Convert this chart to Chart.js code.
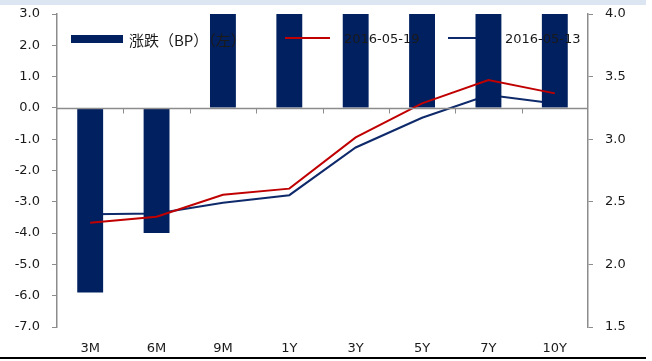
<!DOCTYPE html>
<html>
<head>
<meta charset="utf-8">
<script src="https://cdn.jsdelivr.net/npm/chart.js@4.4.1/dist/chart.umd.min.js"></script>
<style>
  html, body { margin: 0; padding: 0; background: #fff; }
  #wrap { position: relative; width: 652px; height: 361px; }
</style>
</head>
<body>
<div id="wrap"><canvas id="c" width="652" height="361"></canvas></div>
<script>
// 期限
const tenors = ['3M', '6M', '9M', '1Y', '3Y', '5Y', '7Y', '10Y'];
// 涨跌（BP），左轴
const changeBp = [-5.9, -4.0, 6.4, 5.2, 8.0, 11.5, 11.9, 8.0];
// 收益率（%），右轴
const yield0519 = [2.332, 2.380, 2.556, 2.605, 3.014, 3.286, 3.472, 3.366];
const yield0513 = [2.401, 2.407, 2.492, 2.553, 2.934, 3.171, 3.353, 3.286];

const NAVY = '#002060';
const RED = '#C00000';
const LINE_BLUE = '#0F2A6B';
const AXIS = '#8c8c8c';
const TXT = '#1a1a1a';
const FONT = 'DejaVu Sans';

// 零线和分类间隔刻度
const zeroAxis = {
  id: 'zeroAxis',
  afterDatasetsDraw(chart) {
    const ctx = chart.ctx;
    const xs = chart.scales.x;
    const y0 = Math.round(chart.scales.y.getPixelForValue(0)) + 0.5;
    const half = (xs.getPixelForTick(1) - xs.getPixelForTick(0)) / 2;
    ctx.save();
    ctx.strokeStyle = AXIS;
    ctx.lineWidth = 1.5;
    ctx.beginPath();
    ctx.moveTo(chart.chartArea.left, y0);
    ctx.lineTo(chart.chartArea.right, y0);
    ctx.stroke();
    ctx.lineWidth = 1;
    ctx.beginPath();
    for (let i = 1; i < tenors.length; i++) {
      const x = Math.round(xs.getPixelForTick(i) - half) + 0.5;
      ctx.moveTo(x, y0);
      ctx.lineTo(x, y0 + 5);
    }
    ctx.stroke();
    ctx.restore();
  }
};

// 图例画在绘图区内：蓝线色块在柱子下面，其余在柱子上面
const legendBox = {
  id: 'legendBox',
  beforeDatasetsDraw(chart) {
    const ctx = chart.ctx;
    ctx.save();
    ctx.strokeStyle = LINE_BLUE;
    ctx.lineWidth = 2;
    ctx.beginPath();
    ctx.moveTo(448, 38);
    ctx.lineTo(493, 38);
    ctx.stroke();
    ctx.restore();
  },
  afterDatasetsDraw(chart) {
    const ctx = chart.ctx;
    ctx.save();
    ctx.fillStyle = NAVY;
    ctx.fillRect(71, 35, 52, 8);
    ctx.strokeStyle = RED;
    ctx.lineWidth = 2;
    ctx.beginPath();
    ctx.moveTo(285, 38);
    ctx.lineTo(330, 38);
    ctx.stroke();
    ctx.fillStyle = TXT;
    ctx.textBaseline = 'middle';
    ctx.font = '15px "Noto Sans CJK SC"';
    ctx.fillText('涨跌（BP）（左）', 129, 40);
    ctx.font = '13px "' + FONT + '"';
    ctx.fillText('2016-05-19', 344, 40);
    ctx.fillText('2016-05-13', 505, 40);
    ctx.restore();
  }
};

// 顶部浅蓝条和底部黑线
const frame = {
  id: 'frame',
  beforeDraw(chart) {
    const ctx = chart.ctx;
    ctx.save();
    ctx.fillStyle = '#fff';
    ctx.fillRect(0, 0, 652, 361);
    ctx.fillStyle = '#dce6f2';
    ctx.fillRect(0, 0, 646, 5);
    ctx.fillStyle = '#000';
    ctx.fillRect(0, 357, 646, 2);
    ctx.restore();
  }
};

// 纵轴固定宽度，去掉刻度文字带来的上下留白
function fixWidth(w) {
  return s => {
    s.width = w;
    s.paddingTop = 0;
    s.paddingBottom = 0;
  };
}

new Chart(document.getElementById('c'), {
  data: {
    labels: tenors,
    datasets: [
      {
        type: 'bar',
        label: '涨跌（BP）（左）',
        data: changeBp,
        backgroundColor: NAVY,
        barPercentage: 0.39,
        categoryPercentage: 1,
        yAxisID: 'y',
        order: 1
      },
      {
        type: 'line',
        label: '2016-05-19',
        data: yield0519,
        borderColor: RED,
        borderWidth: 2,
        pointRadius: 0,
        tension: 0,
        yAxisID: 'y1',
        order: 0
      },
      {
        type: 'line',
        label: '2016-05-13',
        data: yield0513,
        borderColor: LINE_BLUE,
        borderWidth: 2,
        pointRadius: 0,
        tension: 0,
        yAxisID: 'y1',
        order: 2
      }
    ]
  },
  options: {
    responsive: false,
    animation: false,
    layout: { padding: { top: 14, left: 0, right: 0, bottom: 0 } },
    plugins: {
      legend: { display: false },
      tooltip: { enabled: false }
    },
    scales: {
      x: {
        type: 'category',
        position: 'bottom',
        offset: true,
        grid: { display: false, drawTicks: false },
        border: { display: false },
        ticks: { color: TXT, font: { family: FONT, size: 13 }, padding: 14, maxRotation: 0 },
        afterFit(s) { s.height = 34; }
      },
      y: {
        position: 'left',
        min: -7,
        max: 3,
        ticks: {
          stepSize: 1,
          color: TXT,
          font: { family: FONT, size: 13 },
          padding: 12,
          callback: v => v.toFixed(1)
        },
        grid: { drawOnChartArea: false, drawTicks: true, tickLength: 5, color: AXIS },
        border: { color: AXIS, width: 1.5 },
        afterFit: fixWidth(57)
      },
      y1: {
        position: 'right',
        min: 1.5,
        max: 4.0,
        ticks: {
          stepSize: 0.5,
          color: TXT,
          font: { family: FONT, size: 13 },
          padding: 12,
          callback: v => v.toFixed(1)
        },
        grid: { drawOnChartArea: false, drawTicks: true, tickLength: 5, color: AXIS },
        border: { color: AXIS, width: 1.5 },
        afterFit: fixWidth(64)
      }
    }
  },
  plugins: [frame, zeroAxis, legendBox]
});
</script>
</body>
</html>
